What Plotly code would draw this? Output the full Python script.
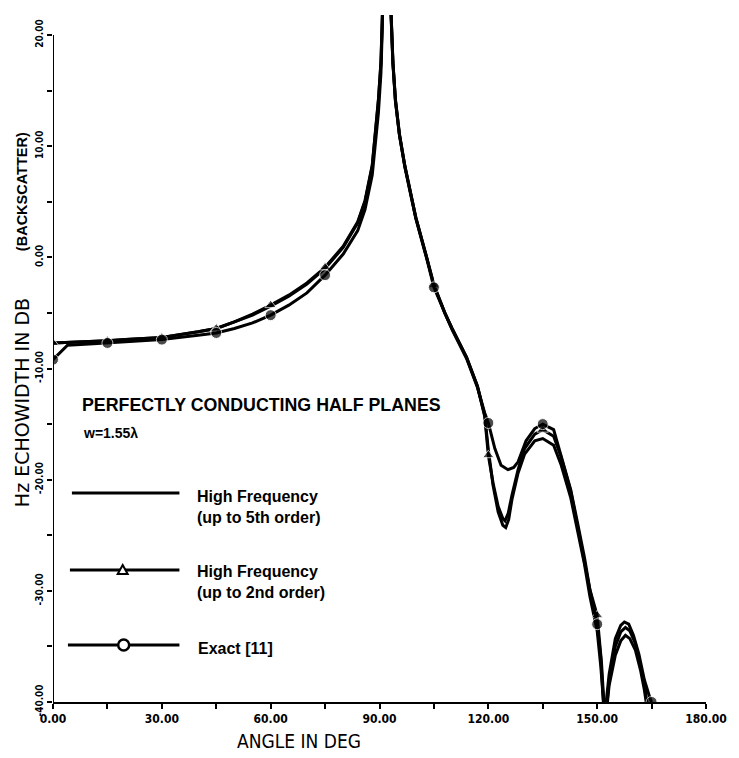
import plotly.graph_objects as go

# ---------------- data ----------------
hf5_angle = [0, 10, 15, 20, 30, 40, 45, 50, 55, 60, 65, 70, 75, 80, 84, 86, 88, 89.7, 90.4, 90.8, 92,
             93.2, 93.7, 94.4, 95.5, 97, 100, 103, 105, 108, 110, 114, 117, 119, 120, 121.3, 122.7, 124,
             124.8, 125.6, 126.5, 128.2, 130, 132.8, 135, 138, 140, 142.7, 144.6, 146.5, 148, 150, 151,
             152.2, 153.3, 155, 156.5, 157.8, 159, 160.5, 162, 163, 164.2]
hf5_db = [-7.7, -7.6, -7.5, -7.4, -7.2, -6.7, -6.4, -5.8, -5.2, -4.4, -3.5, -2.4, -1.0, 0.9, 3.1, 5.0, 8.2,
          14.1, 17.5, 21.8, 60, 21.8, 17.5, 14.1, 11.0, 8.2, 3.6, 0.0, -2.5, -5.0, -6.4, -9.0, -11.6, -14.2,
          -17.3, -20.5, -22.9, -24.1, -24.3, -23.6, -21.8, -19.4, -17.7, -16.5, -16.3, -16.9, -18.6, -21.6,
          -24.7, -27.6, -30.5, -33.6, -36.8, -42, -38.5, -35.8, -34.5, -34.0, -34.3, -35.3, -37.2, -38.9,
          -41.5]

hf2_angle = [0, 10, 15, 20, 30, 40, 45, 50, 55, 60, 65, 70, 75, 80, 84, 86, 88, 89.7, 90.4, 90.8, 92,
             93.2, 93.7, 94.4, 95.5, 97, 100, 103, 105, 108, 110, 114, 117, 119, 120, 121.3, 122.7, 124,
             124.6, 125.5, 126.5, 128.2, 130, 132.8, 135, 138, 140, 142.7, 144.6, 146.5, 148, 150, 151.2,
             152.2, 153.3, 155, 156.5, 157.8, 159, 160.5, 162, 163.2, 164.3]
hf2_db = [-7.7, -7.6, -7.5, -7.4, -7.2, -6.7, -6.4, -5.8, -5.1, -4.3, -3.4, -2.3, -0.9, 1.0, 3.2, 5.1, 8.3,
          14.2, 17.6, 21.9, 60, 21.9, 17.6, 14.2, 11.1, 8.2, 3.6, 0.0, -2.5, -5.0, -6.4, -9.0, -11.6, -14.3,
          -17.8, -20.3, -22.4, -23.5, -23.7, -23.0, -21.4, -19.1, -17.2, -15.9, -15.5, -16.1, -17.9, -21.0,
          -24.2, -27.1, -29.9, -32.2, -36.5, -42, -38.0, -35.0, -33.7, -33.3, -33.6, -34.7, -36.8, -38.8,
          -41.5]

exact_angle = [0, 4, 10, 15, 20, 30, 40, 45, 50, 55, 60, 65, 70, 75, 80, 84, 86, 88, 89.7, 90.4, 90.8, 92,
               93.2, 93.7, 94.4, 95.5, 97, 100, 103, 105, 108, 110, 114, 117, 119, 120, 121.8, 123.5, 125.4,
               127, 128.2, 130.4, 132.8, 135, 138, 140, 142.7, 144.6, 146.5, 148, 150, 151, 152, 153.3, 155,
               156.5, 157.5, 158.7, 160, 161.5, 163, 164.5, 165]
exact_db = [-9.2, -7.9, -7.8, -7.7, -7.6, -7.4, -7.0, -6.8, -6.4, -5.9, -5.2, -4.3, -3.2, -1.6, 0.3, 2.4, 4.3,
            7.4, 13.0, 16.6, 21.0, 60, 21.6, 17.4, 14.0, 11.0, 8.1, 3.5, -0.1, -2.7, -5.0, -6.5, -9.1, -11.7,
            -14.0, -14.9, -17.2, -18.7, -19.1, -18.9, -18.4, -16.5, -15.4, -15.0, -15.5, -17.9, -20.9, -23.9,
            -27.0, -29.9, -33.0, -36.0, -41.5, -37.5, -34.3, -33.1, -32.8, -33.0, -34.0, -35.7, -38.0, -39.6,
            -40.0]

x_tickvals = [0, 15, 30, 45, 60, 75, 90, 105, 120, 135, 150, 165, 180]
x_ticktext = ["0.00", "", "30.00", "", "60.00", "", "90.00", "", "120.00", "", "150.00", "", "180.00"]
y_tickvals = [-40, -35, -30, -25, -20, -15, -10, -5, 0, 5, 10, 15, 20]
y_ticktext = ["-40.00", "", "-30.00", "", "-20.00", "", "-10.00", "", "0.00", "", "10.00", "", "20.00"]

legend_labels = ["High Frequency<br>(up to 5th order)", "High Frequency<br>(up to 2nd order)", "Exact [11]"]

# ---------------- layout geometry (pixels) ----------------
W, H = 739, 758
L, R, T, B = 53, 30, 15, 56
PW, PH = W - L - R, H - T - B


def px(x):
    return (x - L) / PW


def py(y):
    return (T + PH - y) / PH


def msize(angles, s):
    return [s if (a % 15 == 0) else 0 for a in angles]


LW = 3
fig = go.Figure()
fig.add_trace(go.Scatter(x=hf5_angle, y=hf5_db, mode="lines",
                         line=dict(color="black", width=LW), showlegend=False))
fig.add_trace(go.Scatter(x=hf2_angle, y=hf2_db, mode="lines+markers",
                         line=dict(color="black", width=LW),
                         marker=dict(symbol="triangle-up", color="black", size=msize(hf2_angle, 10)),
                         showlegend=False))
fig.add_trace(go.Scatter(x=exact_angle, y=exact_db, mode="lines+markers",
                         line=dict(color="black", width=LW),
                         marker=dict(symbol="circle", color="black", size=msize(exact_angle, 11)),
                         showlegend=False))

fig.update_layout(
    width=W, height=H,
    margin=dict(l=L, r=R, t=T, b=B, pad=0),
    paper_bgcolor="white", plot_bgcolor="white",
    showlegend=False,
    xaxis=dict(range=[0, 180], tickvals=x_tickvals, ticktext=x_ticktext, showgrid=False, zeroline=False,
               showline=True, linecolor="black", linewidth=2, ticks="outside", ticklen=5, tickwidth=2,
               tickcolor="black",
               tickfont=dict(family="Liberation Sans Narrow, DejaVu Sans Condensed, Arial Narrow", size=12,
                             color="black", weight="bold")),
    yaxis=dict(range=[-40, 21.8], tickvals=y_tickvals, ticktext=y_ticktext, showgrid=False, zeroline=False,
               showline=False, ticks="outside", ticklen=5, tickwidth=2, tickcolor="black", tickangle=-90,
               tickfont=dict(family="Liberation Sans Narrow, DejaVu Sans Condensed, Arial Narrow", size=10,
                             color="black", weight="bold")),
)

shapes = []
# y axis line (only up to 20)
shapes.append(dict(type="line", xref="x", yref="y", x0=0, x1=0, y0=-40, y1=20,
                   line=dict(color="black", width=2)))
# legend samples
leg_y = [493, 570, 645]
for yy, x0 in zip(leg_y, [72, 70, 68]):
    shapes.append(dict(type="line", xref="paper", yref="paper", x0=px(x0), x1=px(180), y0=py(yy), y1=py(yy),
                       line=dict(color="black", width=LW)))
# triangle marker in legend
tx, ty, ts = 123, 570, 5
shapes.append(dict(type="path", xref="paper", yref="paper",
                   path=f"M {px(tx)} {py(ty - ts)} L {px(tx + ts)} {py(ty + ts * 0.8)} "
                        f"L {px(tx - ts)} {py(ty + ts * 0.8)} Z",
                   fillcolor="white", line=dict(color="black", width=2)))
# circle marker in legend
cx, cy, cr = 124, 645, 5.5
shapes.append(dict(type="circle", xref="paper", yref="paper", x0=px(cx - cr), x1=px(cx + cr),
                   y0=py(cy + cr), y1=py(cy - cr), fillcolor="white", line=dict(color="black", width=2.5)))
fig.update_layout(shapes=shapes)

ann_font = "Liberation Sans, Arial, sans-serif"
annotations = [
    dict(text="PERFECTLY CONDUCTING HALF PLANES", x=px(80), y=py(405), xanchor="left", yanchor="middle",
         font=dict(family=ann_font, size=17.8, color="black", weight="bold")),
    dict(text="w=1.55λ", x=px(81), y=py(433), xanchor="left", yanchor="middle",
         font=dict(family=ann_font, size=14, color="black", weight="bold")),
    dict(text=legend_labels[0], x=px(196), y=py(507), xanchor="left", yanchor="middle", align="left",
         font=dict(family=ann_font, size=16, color="black", weight="bold")),
    dict(text=legend_labels[1], x=px(196), y=py(582), xanchor="left", yanchor="middle", align="left",
         font=dict(family=ann_font, size=16, color="black", weight="bold")),
    dict(text=legend_labels[2], x=px(197), y=py(648), xanchor="left", yanchor="middle", align="left",
         font=dict(family=ann_font, size=16, color="black", weight="bold")),
    dict(text="ANGLE IN DEG", x=px(300), y=py(741), xanchor="center", yanchor="middle",
         font=dict(family="DejaVu Sans Condensed, DejaVu Sans", size=19, color="black")),
    dict(text="Hz ECHOWIDTH IN DB", x=px(22), y=py(403), xanchor="center", yanchor="middle", textangle=-90,
         font=dict(family="DejaVu Sans", size=19, color="black")),
    dict(text="(BACKSCATTER)", x=px(22), y=py(192), xanchor="center", yanchor="middle", textangle=-90,
         font=dict(family=ann_font, size=14.5, color="black", weight="bold")),
]
for a in annotations:
    a.update(xref="paper", yref="paper", showarrow=False)
fig.update_layout(annotations=annotations)

fig.write_html("out.html")
